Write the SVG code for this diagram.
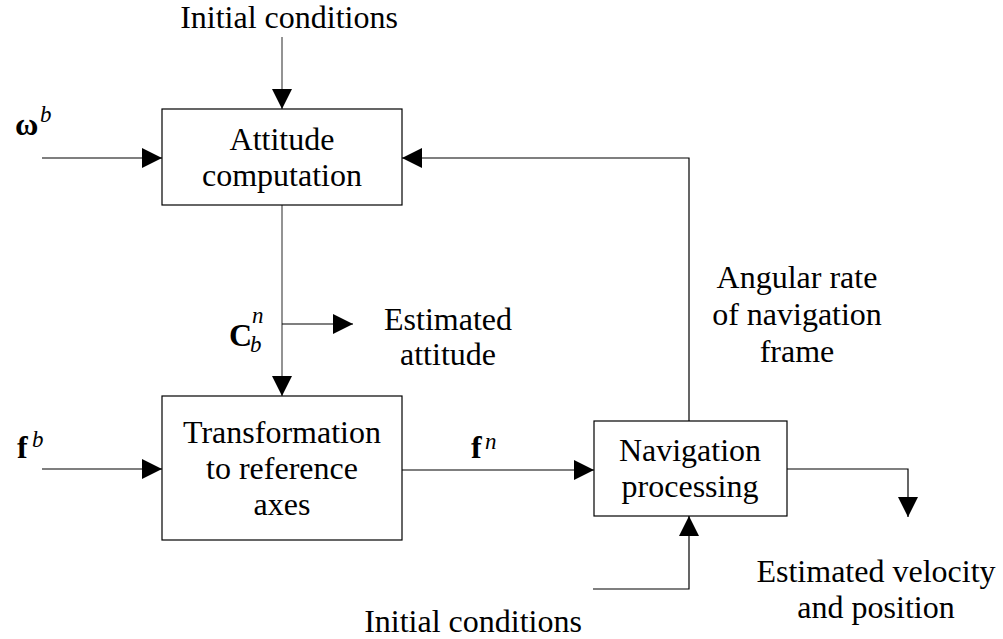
<svg xmlns="http://www.w3.org/2000/svg" width="1003" height="639" viewBox="0 0 1003 639">
<defs>
<marker id="arr" markerUnits="userSpaceOnUse" viewBox="0 0 20 20" refX="20" refY="10" markerWidth="20" markerHeight="20" orient="auto">
<path d="M0,0 L20,10 L0,20 z" fill="#000"/>
</marker>
<style>
.box{fill:#fff;stroke:#000;stroke-width:1.2}
.c{fill:none;stroke:#000;stroke-width:1.2;marker-end:url(#arr)}
.g{fill:none;stroke:#6f6f6f;stroke-width:1.5;marker-end:url(#arr)}
</style>
</defs>
<rect width="1003" height="639" fill="#fff"/>
<g id="connectors">
<path class="g" d="M282,37 V109"/>
<path class="c" d="M42,158 H162"/>
<path class="g" d="M282,205 V396"/>
<path class="c" d="M282,324 H353"/>
<path class="c" d="M42,469 H162"/>
<path class="c" d="M402,470 H594"/>
<path class="c" d="M689,421 V158 H402"/>
<path class="c" d="M787,469 H908 V517"/>
<path class="c" d="M593,589 H689 V516"/>
</g>
<g id="attitude">
<rect class="box" x="162" y="109" width="240" height="96"/>
<text font-family="Liberation Serif" font-size="32" text-anchor="middle" x="282" y="150">Attitude</text>
<text font-family="Liberation Serif" font-size="32" text-anchor="middle" x="282" y="186">computation</text>
</g>
<g id="transformation">
<rect class="box" x="162" y="396" width="240" height="144"/>
<text font-family="Liberation Serif" font-size="32" text-anchor="middle" x="282" y="443">Transformation</text>
<text font-family="Liberation Serif" font-size="32" text-anchor="middle" x="282" y="479">to reference</text>
<text font-family="Liberation Serif" font-size="32" text-anchor="middle" x="282" y="515">axes</text>
</g>
<g id="navigation">
<rect class="box" x="594" y="421" width="193" height="95"/>
<text font-family="Liberation Serif" font-size="32" text-anchor="middle" x="690" y="461">Navigation</text>
<text font-family="Liberation Serif" font-size="32" text-anchor="middle" x="690" y="497">processing</text>
</g>
<g id="labels">
<text font-family="Liberation Serif" font-size="32" text-anchor="middle" x="289" y="28">Initial conditions</text>
<text font-family="Liberation Serif" font-size="32" text-anchor="middle" x="473" y="632">Initial conditions</text>
<text font-family="Liberation Serif" font-size="32" text-anchor="middle" x="448" y="330">Estimated</text>
<text font-family="Liberation Serif" font-size="32" text-anchor="middle" x="448" y="365">attitude</text>
<text font-family="Liberation Serif" font-size="32" text-anchor="middle" x="797" y="288">Angular rate</text>
<text font-family="Liberation Serif" font-size="32" text-anchor="middle" x="797" y="325">of navigation</text>
<text font-family="Liberation Serif" font-size="32" text-anchor="middle" x="797" y="362">frame</text>
<text font-family="Liberation Serif" font-size="32" text-anchor="middle" x="876" y="582">Estimated velocity</text>
<text font-family="Liberation Serif" font-size="32" text-anchor="middle" x="876" y="618">and position</text>
<text font-family="Liberation Serif" font-size="32" font-weight="bold" x="15" y="135">ω</text>
<text font-family="Liberation Serif" font-size="23" font-style="italic" x="40" y="122">b</text>
<text font-family="Liberation Serif" font-size="32" font-weight="bold" x="229" y="346">C</text>
<text font-family="Liberation Serif" font-size="23" font-style="italic" x="252" y="323">n</text>
<text font-family="Liberation Serif" font-size="23" font-style="italic" x="250" y="352">b</text>
<text font-family="Liberation Serif" font-size="32" font-weight="bold" x="17" y="458">f</text>
<text font-family="Liberation Serif" font-size="23" font-style="italic" x="32" y="447">b</text>
<text font-family="Liberation Serif" font-size="32" font-weight="bold" x="471" y="458">f</text>
<text font-family="Liberation Serif" font-size="23" font-style="italic" x="485" y="449">n</text>
</g>
</svg>
